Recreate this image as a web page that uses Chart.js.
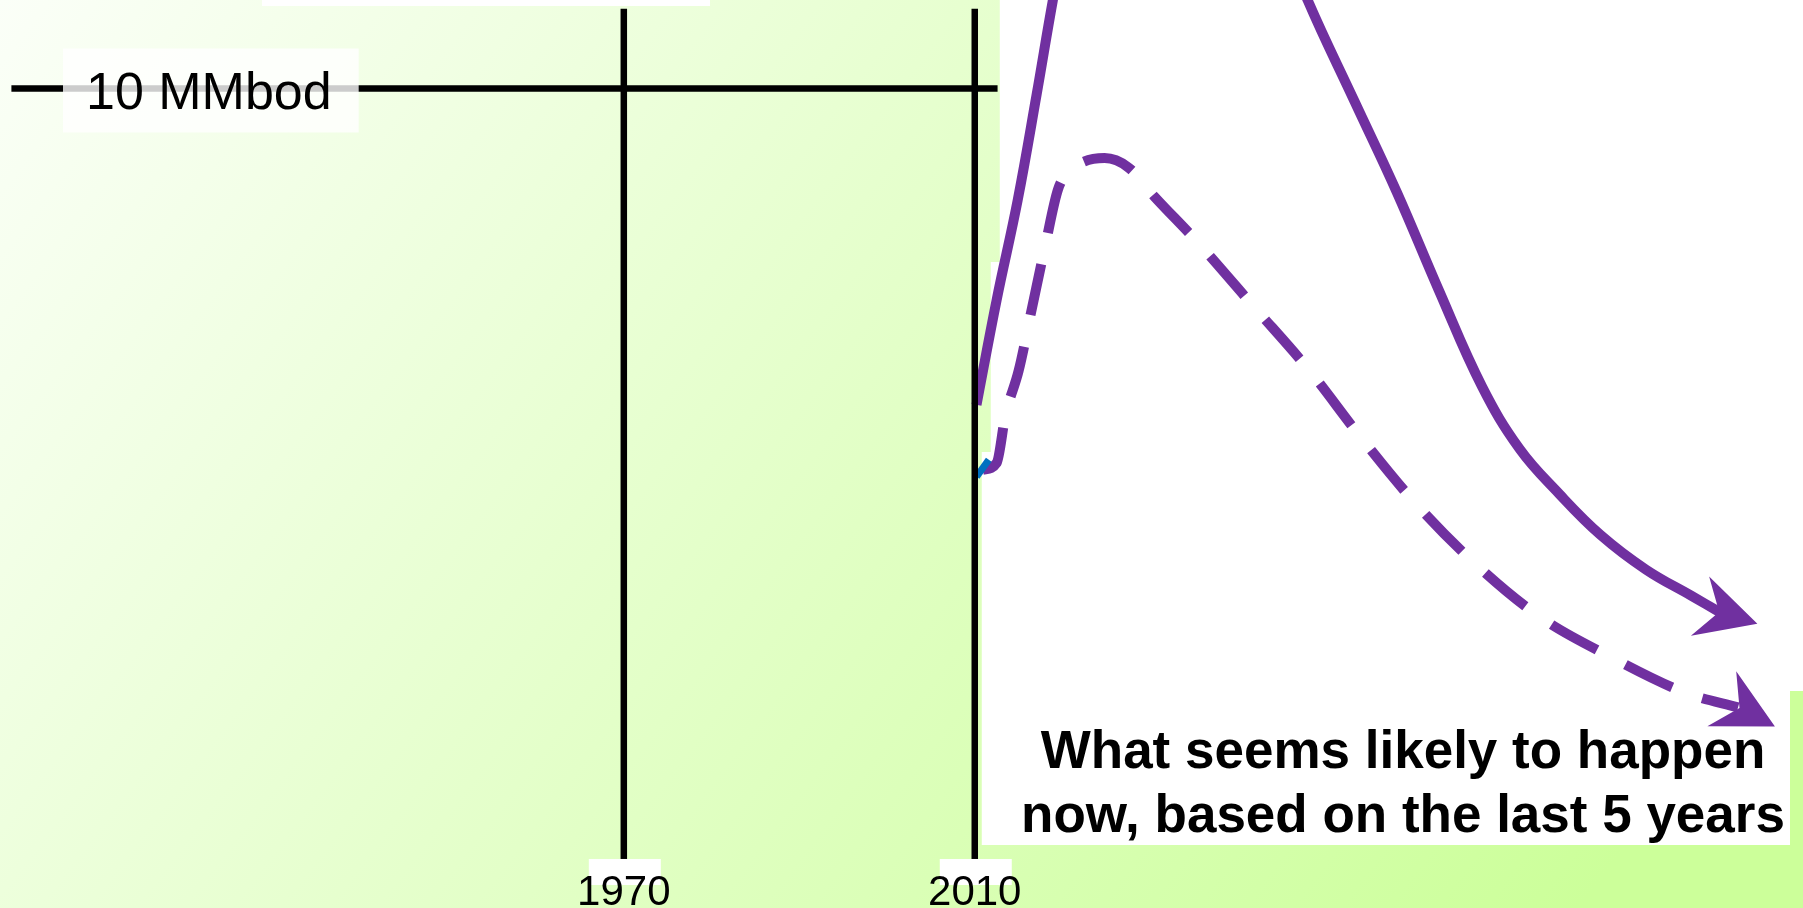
<!DOCTYPE html>
<html>
<head>
<meta charset="utf-8">
<script src="https://cdn.jsdelivr.net/npm/chart.js@4.4.1/dist/chart.umd.min.js"></script>
<style>
  body { margin: 0; overflow: hidden; }
  #wrap { width: 1803px; height: 908px; position: relative; }
</style>
</head>
<body>
<div id="wrap"><canvas id="myChart"></canvas></div>
<script>
// axis ranges (years / MMbod)
const xMin = 1898.9, xMax = 2104.4;
const yMin = -0.595, yMax = 11.144;

// reference lines
const markYears = [1970, 2010];
const markTop = 11.03;
const levelValue = 10;
const levelLabel = "10 MMbod";
const levelFrom = 1900.2, levelTo = 2012.6;

// solid curve (what was expected), peak goes above the top
const solidYears = [2010.2, 2012.5, 2014.9, 2017.05, 2018.9, 2023.1, 2031.1, 2038.5, 2047.95, 2053.3, 2058.1, 2062.9, 2067.8, 2072.1, 2076.6, 2081.3, 2086.5, 2091.7, 2094.9];
const solidValues = [5.91, 7.27, 8.56, 9.92, 11.14, 13.73, 15.28, 13.73, 11.14, 9.83, 8.66, 7.39, 6.15, 5.34, 4.76, 4.23, 3.78, 3.44, 3.23];
const solidTip = [2099.2, 3.08];

// dashed curve (what seems likely now)
const dashYears = [2010.9, 2012.5, 2013.5, 2015.0, 2016.5, 2018.0, 2019.5, 2021.0, 2024.8, 2027.5, 2030.5, 2035.5, 2041.8, 2048.1, 2054.0, 2059.9, 2066.9, 2074.4, 2082.5, 2091.2, 2097.0];
const dashValues = [5.07, 5.16, 5.78, 6.35, 7.15, 7.95, 8.70, 8.95, 9.10, 8.98, 8.60, 8.00, 7.18, 6.36, 5.49, 4.68, 3.87, 3.17, 2.65, 2.18, 2.00];
const dashTip = [2101.2, 1.75];

// small bit of history line at 2010
const histYears = [2010.2, 2011.6];
const histValues = [4.98, 5.2];

const noteLines = ["What seems likely to happen", "now, based on the last 5 years"];

const purple = "#7030A0";
const FONT = "'Liberation Sans', Arial, sans-serif";

function pts(xs, ys) {
  return xs.map((x, i) => ({ x: x, y: ys[i] }));
}

var datasets = [];
markYears.forEach(function (yr) {
  datasets.push({ data: [{ x: yr, y: 0 }, { x: yr, y: markTop }], borderColor: "#000", borderWidth: 6.5, pointRadius: 0, tension: 0 });
});
datasets.push({ data: [{ x: levelFrom, y: levelValue }, { x: levelTo, y: levelValue }], borderColor: "#000", borderWidth: 6.5, pointRadius: 0, tension: 0 });
datasets.push({ data: pts(histYears, histValues), borderColor: "#0070C0", borderWidth: 7, pointRadius: 0 });
datasets.push({ data: pts(solidYears, solidValues), borderColor: purple, borderWidth: 10, pointRadius: 0, tension: 0.4, capBezierPoints: false, arrowTip: solidTip });
datasets.push({ data: pts(dashYears, dashValues), borderColor: purple, borderWidth: 10, borderDash: [52, 32], borderCapStyle: "butt", pointRadius: 0, cubicInterpolationMode: "monotone", arrowTip: dashTip });

// background + white panels
const backdrop = {
  id: "backdrop",
  beforeDatasetsDraw(chart) {
    const c = chart.ctx, w = chart.width, h = chart.height;
    const xs = chart.scales.x, ys = chart.scales.y;
    c.save();
    var g = c.createLinearGradient(0, 0, w * 0.8, h * 1.2);
    g.addColorStop(0, "#fbfff8");
    g.addColorStop(1, "#ccff9a");
    c.fillStyle = g;
    c.fillRect(0, 0, w, h);
    c.fillStyle = "#fff";
    var x2010 = xs.getPixelForValue(2010);
    // panel right of 2010
    c.fillRect(x2010 + 25, 0, w, 691);
    c.fillRect(x2010 + 16, 262, 1790 - x2010 - 16, 845 - 262);
    c.fillRect(x2010 + 7, 452, 20, 845 - 452);
    // strip at top
    c.fillRect(262, 0, 448, 6);
    c.restore();
  },
  afterDatasetsDraw(chart) {
    const c = chart.ctx;
    const xs = chart.scales.x, ys = chart.scales.y;
    c.save();
    // arrow heads
    chart.data.datasets.forEach(function (ds, i) {
      if (!ds.arrowTip) return;
      var last = ds.data[ds.data.length - 1];
      var px = xs.getPixelForValue(last.x), py = ys.getPixelForValue(last.y);
      var tx = xs.getPixelForValue(ds.arrowTip[0]), ty = ys.getPixelForValue(ds.arrowTip[1]);
      var dx = tx - px, dy = ty - py, len = Math.hypot(dx, dy);
      var ux = dx / len, uy = dy / len, nx = -uy, ny = ux;
      c.fillStyle = purple;
      c.beginPath();
      c.moveTo(tx, ty);
      c.lineTo(tx - ux * 60 + nx * 31, ty - uy * 60 + ny * 31);
      c.lineTo(tx - ux * 40, ty - uy * 40);
      c.lineTo(tx - ux * 60 - nx * 31, ty - uy * 60 - ny * 31);
      c.closePath();
      c.fill();
    });

    // level label
    var ly = ys.getPixelForValue(levelValue);
    c.font = "52px " + FONT;
    var tw = c.measureText(levelLabel).width;
    c.fillStyle = "rgba(255,255,255,0.8)";
    c.fillRect(63, ly - 40, tw + 50, 84);
    c.fillStyle = "#000";
    c.textBaseline = "alphabetic";
    c.textAlign = "left";
    c.fillText(levelLabel, 86, ly + 21);

    // year labels
    c.font = "42px " + FONT;
    c.textAlign = "center";
    markYears.forEach(function (yr) {
      var x = xs.getPixelForValue(yr);
      c.fillStyle = "#fff";
      c.fillRect(x - 35, ys.getPixelForValue(0) - 3, 72, 26);
      c.fillStyle = "#000";
      c.fillText(String(yr), x, 905);
    });

    // note
    c.font = "bold 53px " + FONT;
    c.textAlign = "center";
    noteLines.forEach(function (t, i) {
      c.fillText(t, 1403, 768 + i * 64);
    });
    c.restore();
  }
};

new Chart("myChart", {
  type: "line",
  data: { datasets: datasets },
  options: {
    responsive: true,
    maintainAspectRatio: false,
    animation: false,
    layout: { padding: 0 },
    plugins: { legend: { display: false }, tooltip: { enabled: false } },
    scales: {
      x: { type: "linear", min: xMin, max: xMax, display: false },
      y: { type: "linear", min: yMin, max: yMax, display: false }
    }
  },
  plugins: [backdrop]
});
</script>
</body>
</html>
